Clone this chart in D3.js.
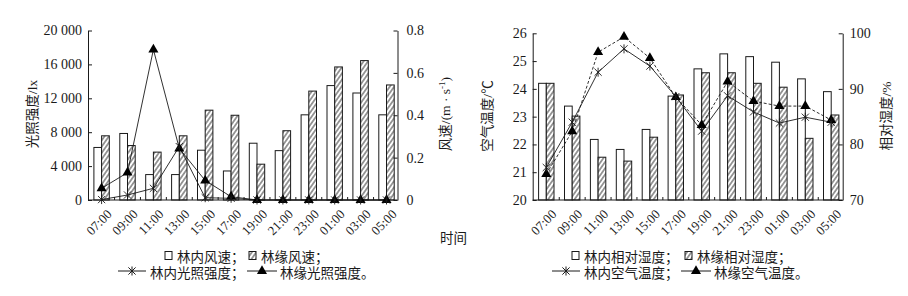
<!DOCTYPE html>
<html>
<head>
<meta charset="utf-8">
<script src="https://cdn.jsdelivr.net/npm/d3@7"></script>
<style>
  body { margin: 0; background: #fff; }
  svg text { font-family: "Liberation Serif", "Noto Sans CJK SC", serif; fill: #1a1a1a; }
</style>
</head>
<body>
<div id="chart"></div>
<script>
// categories
const times = ["07:00", "09:00", "11:00", "13:00", "15:00", "17:00",
               "19:00", "21:00", "23:00", "01:00", "03:00", "05:00"];

// left chart: wind speed (bars, m/s) and light intensity (lines, lx)
const windInside = [0.248, 0.314, 0.12, 0.12, 0.235, 0.137, 0.268, 0.233, 0.402, 0.54, 0.505, 0.402];
const windEdge = [0.303, 0.257, 0.226, 0.303, 0.424, 0.4, 0.169, 0.327, 0.514, 0.628, 0.658, 0.543];
const lightInside = [50, 590, 1380, 6300, 270, 200, 0, 0, 0, 0, 0, 0];
const lightEdge = [1380, 3230, 17750, 6080, 2300, 390, 0, 0, 0, 0, 0, 0];
const lightTicks = [0, 4000, 8000, 12000, 16000, 20000];
const windTicks = [0, 0.2, 0.4, 0.6, 0.8];

// right chart: relative humidity (bars, %) and air temperature (lines, °C)
const humidInside = [91.0, 86.9, 80.9, 79.1, 82.7, 88.7, 93.6, 96.3, 95.8, 94.8, 91.8, 89.5];
const humidEdge = [91.0, 85.1, 77.7, 77.0, 81.3, 88.9, 92.9, 92.9, 91.0, 90.3, 81.1, 85.3];
const tempInside = [21.17, 22.8, 24.6, 25.44, 24.82, 23.72, 22.48, 23.75, 23.17, 22.77, 22.98, 22.8];
const tempEdge = [20.93, 22.47, 25.32, 25.87, 25.11, 23.7, 22.7, 24.26, 23.56, 23.38, 23.38, 22.88];
const tempTicks = [20, 21, 22, 23, 24, 25, 26];
const humidTicks = [70, 80, 90, 100];

const WIDTH = 908, HEIGHT = 296;
const STEP = 25.9, BAR_W = 7.7, BASE_Y = 200;
const INK = "#1a1a1a";

const svg = d3.select("#chart").append("svg")
  .attr("width", WIDTH).attr("height", HEIGHT);

// hatch pattern for the forest-edge bars
svg.append("defs").append("pattern")
  .attr("id", "hatch")
  .attr("patternUnits", "userSpaceOnUse")
  .attr("width", 3.6).attr("height", 10)
  .attr("patternTransform", "rotate(35)")
  .call((p) => {
    p.append("rect").attr("width", 3.6).attr("height", 10).attr("fill", "#fff");
    p.append("line").attr("x1", 1.8).attr("x2", 1.8).attr("y1", -1).attr("y2", 11)
      .attr("stroke", INK).attr("stroke-width", 0.9);
  });

function asterisk(r) {
  return `M${-r},${-r}L${r},${r}M${-r},${r}L${r},${-r}M0,${-r * 1.25}L0,${r * 1.25}`;
}
const triangle = d3.symbol(d3.symbolTriangle, 44)();

function drawPanel(p) {
  const g = svg.append("g");
  const x = d3.scaleBand().domain(times)
    .range([p.left + 0.65, p.left + 0.65 + times.length * STEP]);
  const cx = (d) => x(d) + x.bandwidth() / 2;
  const yL = d3.scaleLinear().domain(p.leftDomain).range([BASE_Y, p.top]);
  const yR = d3.scaleLinear().domain(p.rightDomain).range([BASE_Y, p.top]);

  // Bars (right axis)
  g.append("g").selectAll("rect")
    .data(times)
    .join("rect")
    .attr("x", (d) => cx(d) - BAR_W)
    .attr("y", (d, i) => yR(p.barsIn[i]))
    .attr("width", BAR_W)
    .attr("height", (d, i) => BASE_Y - yR(p.barsIn[i]))
    .attr("fill", "#fff").attr("stroke", INK).attr("stroke-width", 1);
  g.append("g").selectAll("rect")
    .data(times)
    .join("rect")
    .attr("x", (d) => cx(d))
    .attr("y", (d, i) => yR(p.barsEdge[i]))
    .attr("width", BAR_W)
    .attr("height", (d, i) => BASE_Y - yR(p.barsEdge[i]))
    .attr("fill", "url(#hatch)").attr("stroke", INK).attr("stroke-width", 1);

  // Left axis
  g.append("g")
    .attr("transform", `translate(${p.left},0)`)
    .call(d3.axisLeft(yL).tickValues(p.leftTicks).tickSize(-4).tickSizeOuter(0)
      .tickPadding(6).tickFormat(p.leftFormat))
    .call((a) => a.selectAll("line, path").attr("stroke", INK))
    .call((a) => a.selectAll("text").attr("font-size", 14).attr("font-family", null));

  // Right axis
  g.append("g")
    .attr("transform", `translate(${p.right},0)`)
    .call(d3.axisRight(yR).tickValues(p.rightTicks).tickSize(-4).tickSizeOuter(0)
      .tickPadding(p.rightPad).tickFormat(p.rightFormat))
    .call((a) => a.selectAll("line, path").attr("stroke", INK))
    .call((a) => a.selectAll("text").attr("font-size", 14).attr("font-family", null));

  // Bottom axis: labels from the band scale, ticks on the category boundaries
  g.append("g")
    .attr("transform", `translate(0,${BASE_Y})`)
    .call(d3.axisBottom(x).tickSize(0))
    .call((a) => a.select(".domain").remove())
    .call((a) => a.selectAll("text")
      .attr("font-size", 13).attr("font-family", null)
      .attr("text-anchor", "end")
      .attr("x", 0).attr("y", 0).attr("dy", 0)
      .attr("transform", "translate(11,15) rotate(-45)"));
  g.append("line")
    .attr("x1", p.left).attr("x2", p.right)
    .attr("y1", BASE_Y).attr("y2", BASE_Y)
    .attr("stroke", INK);
  g.append("g").selectAll("line")
    .data(times.slice(1))
    .join("line")
    .attr("x1", (d) => x(d)).attr("x2", (d) => x(d))
    .attr("y1", BASE_Y).attr("y2", BASE_Y - 3)
    .attr("stroke", INK);

  // Lines (left axis)
  const line = d3.line().x((d) => cx(d[0])).y((d) => yL(d[1]));
  g.append("path")
    .datum(times.map((t, i) => [t, p.lineIn[i]]))
    .attr("d", line)
    .attr("fill", "none").attr("stroke", INK).attr("stroke-width", 0.9);
  g.append("path")
    .datum(times.map((t, i) => [t, p.lineEdge[i]]))
    .attr("d", line)
    .attr("fill", "none").attr("stroke", INK).attr("stroke-width", 0.9)
    .attr("stroke-dasharray", p.edgeDash);
  g.append("g").selectAll("path")
    .data(times)
    .join("path")
    .attr("transform", (d, i) => `translate(${cx(d)},${yL(p.lineEdge[i])})`)
    .attr("d", triangle)
    .attr("fill", "#000");
  g.append("g").selectAll("path")
    .data(times)
    .join("path")
    .attr("transform", (d, i) => `translate(${cx(d)},${yL(p.lineIn[i])})`)
    .attr("d", asterisk(3.6))
    .attr("fill", "none").attr("stroke", INK).attr("stroke-width", 0.9);

  // Axis titles
  g.append("text")
    .attr("transform", `translate(${p.leftTitleX},${p.titleY}) rotate(-90)`)
    .attr("text-anchor", "middle").attr("font-size", 13.5)
    .call(p.leftTitle);
  g.append("text")
    .attr("transform", `translate(${p.rightTitleX},${p.titleY}) rotate(-90)`)
    .attr("text-anchor", "middle").attr("font-size", 13.5)
    .call(p.rightTitle);

  // Legend
  const lg = g.append("g").attr("font-size", 13.5);
  const L = p.legend;
  lg.append("rect").attr("x", L.box1).attr("y", 251.5).attr("width", 7).attr("height", 8)
    .attr("fill", "#fff").attr("stroke", INK);
  lg.append("text").attr("x", L.box1 + 12).attr("y", 261.5).text(L.names[0]);
  lg.append("rect").attr("x", L.box2).attr("y", 251.5).attr("width", 7).attr("height", 8)
    .attr("fill", "url(#hatch)").attr("stroke", INK);
  lg.append("text").attr("x", L.box2 + 12).attr("y", 261.5).text(L.names[1]);
  lg.append("line").attr("x1", L.line1).attr("x2", L.line1 + 28)
    .attr("y1", 271).attr("y2", 271).attr("stroke", INK);
  lg.append("path").attr("transform", `translate(${L.line1 + 14},271)`)
    .attr("d", asterisk(3.6)).attr("fill", "none").attr("stroke", INK);
  lg.append("text").attr("x", L.line1 + 32).attr("y", 277.5).text(L.names[2]);
  lg.append("line").attr("x1", L.line2).attr("x2", L.line2 + 30)
    .attr("y1", 271).attr("y2", 271).attr("stroke", INK);
  lg.append("path").attr("transform", `translate(${L.line2 + 15},271)`)
    .attr("d", triangle).attr("fill", "#000");
  lg.append("text").attr("x", L.line2 + 33).attr("y", 277.5).text(L.names[3]);
}

const spaceThousands = (d) => d3.format(",")(d).replace(",", " ");

drawPanel({
  left: 88, right: 397.5, top: 30.5,
  leftDomain: [0, 20000], rightDomain: [0, 0.8],
  leftTicks: lightTicks, rightTicks: windTicks,
  leftFormat: spaceThousands, rightFormat: (d) => (d === 0 ? "0" : d3.format(".1f")(d)),
  rightPad: 9,
  barsIn: windInside, barsEdge: windEdge,
  lineIn: lightInside, lineEdge: lightEdge, edgeDash: null,
  leftTitleX: 37, rightTitleX: 450, titleY: 114,
  leftTitle: (t) => t.text("光照强度/lx"),
  rightTitle: (t) => {
    t.append("tspan").text("风速/(m · s");
    t.append("tspan").attr("baseline-shift", "super").attr("font-size", 9).text("-1");
    t.append("tspan").text(")");
  },
  legend: {
    box1: 165, box2: 249, line1: 118, line2: 247,
    names: ["林内风速；", "林缘风速；", "林内光照强度；", "林缘光照强度。"],
  },
});

drawPanel({
  left: 532.7, right: 842.7, top: 33.3,
  leftDomain: [20, 26], rightDomain: [70, 100],
  leftTicks: tempTicks, rightTicks: humidTicks,
  leftFormat: d3.format("d"), rightFormat: d3.format("d"),
  rightPad: 7,
  barsIn: humidInside, barsEdge: humidEdge,
  lineIn: tempInside, lineEdge: tempEdge, edgeDash: "3,2",
  leftTitleX: 492, rightTitleX: 891, titleY: 116,
  leftTitle: (t) => t.text("空气温度/℃"),
  rightTitle: (t) => t.text("相对湿度/%"),
  legend: {
    box1: 572, box2: 685, line1: 552, line2: 681,
    names: ["林内相对湿度；", "林缘相对湿度；", "林内空气温度；", "林缘空气温度。"],
  },
});

// shared x-axis title
svg.append("text")
  .attr("x", 440).attr("y", 243)
  .attr("font-size", 13.5)
  .text("时间");
</script>
</body>
</html>
